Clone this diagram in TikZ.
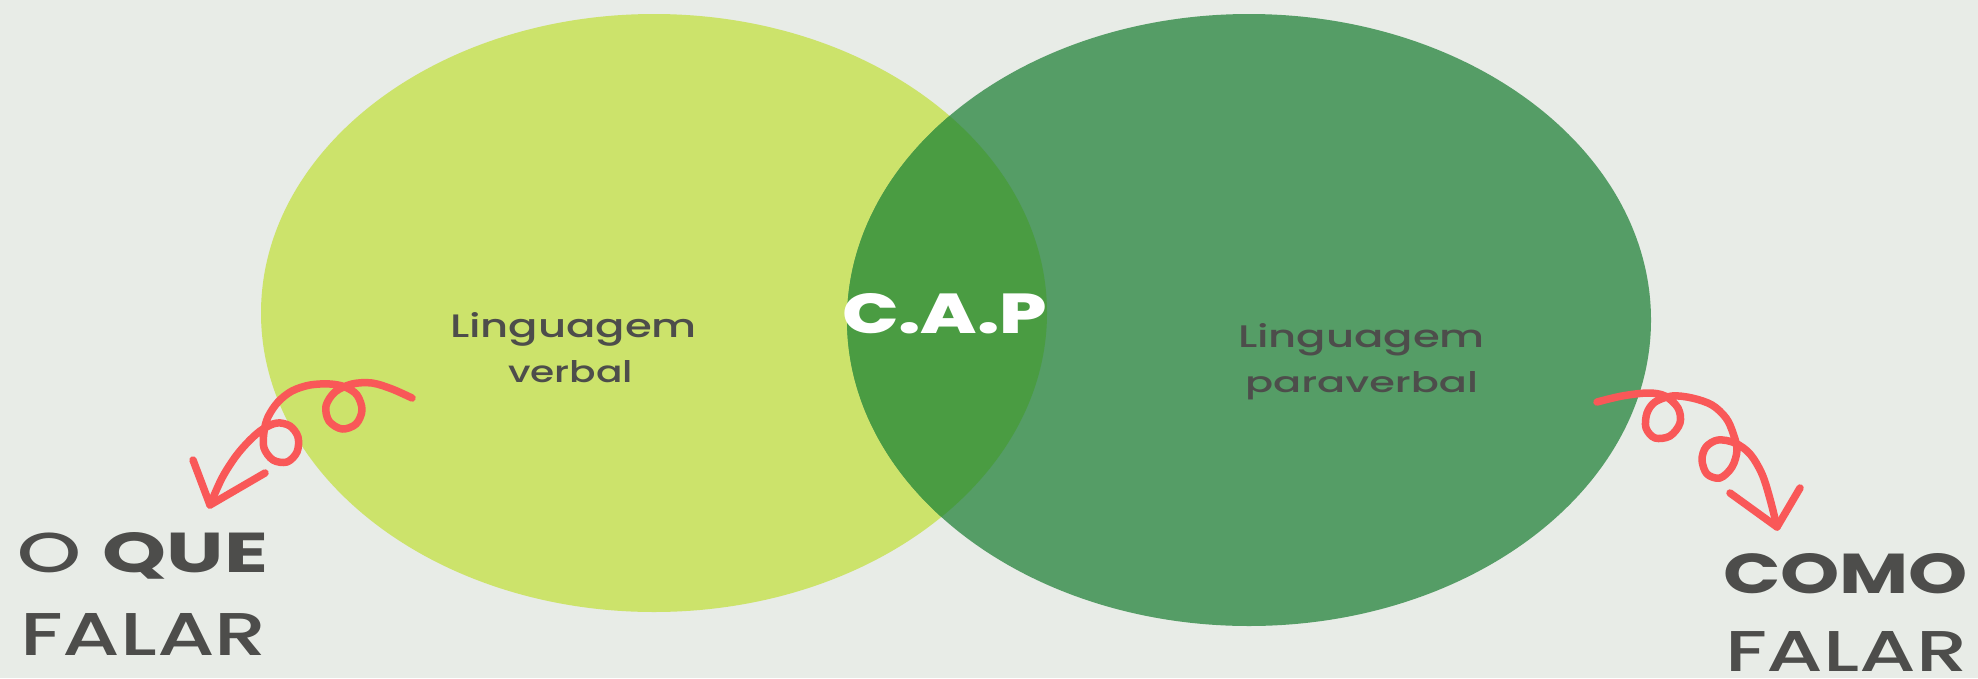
\documentclass[tikz,border=0pt]{standalone}
\usepackage{fontspec}
\setmainfont{Poppins}
\newfontfamily\medfont{Poppins Medium}
\newfontfamily\heavyfont{Poppins ExtraBold}
\usepackage{graphicx}
\definecolor{bgc}{HTML}{E8ECE7}
\definecolor{lime}{HTML}{CCE36B}
\definecolor{leaf}{HTML}{559D66}
\definecolor{mix}{HTML}{4A9C42}
\definecolor{ink}{HTML}{4D4D4B}
\definecolor{coral}{HTML}{F95858}
\newcommand{\fitbox}[3]{\resizebox{#1pt}{#2pt}{#3}}
\tikzset{
  lbl/.style={anchor=base west, inner sep=0pt, outer sep=0pt, text=ink},
  caplbl/.style={anchor=base west, inner sep=0pt, outer sep=0pt, text=white},
  squiggle/.style={draw=coral, line width=7.5pt, line cap=round, line join=round}
}
\begin{document}
\begin{tikzpicture}[x=1pt, y=-1pt]
\useasboundingbox (0,0) rectangle (1978,678);
\fill[bgc] (0,0) rectangle (1978,678);

% circles
\fill[lime] (654,313) ellipse [x radius=393pt, y radius=299pt];
\fill[leaf] (1249,320) ellipse [x radius=402pt, y radius=306pt];
\begin{scope}
  \clip (654,313) ellipse [x radius=393pt, y radius=299pt];
  \fill[mix] (1249,320) ellipse [x radius=402pt, y radius=306pt];
\end{scope}

% labels
\node[lbl] (lv1) at (450,337) {\fitbox{247}{25}{\medfont Linguagem}};
\node[lbl] (lv2) at (508,382) {\fitbox{125}{22}{\medfont verbal}};
\node[lbl] (rp1) at (1238,347) {\fitbox{247}{24}{\medfont Linguagem}};
\node[lbl] (rp2) at (1245,392) {\fitbox{233}{21}{\medfont paraverbal}};
\node[caplbl] (cap) at (842,333) {\fitbox{205}{40}{\heavyfont C.A.P}};

\node[lbl] (oque) at (17,572) {\fitbox{251}{40}{{\medfont O} \textbf{QUE}}};
\node[lbl] (fal1) at (20,655) {\fitbox{247}{42}{\medfont FALAR}};
\node[lbl] (como) at (1723,593) {\fitbox{245}{40}{\bfseries COMO}};
\node[lbl] (fal2) at (1725,671) {\fitbox{243}{40}{\medfont FALAR}};

% left squiggle arrow
\coordinate (la-start) at (412,398);
\coordinate (la-tip) at (210,505);
\coordinate (la-a) at (193,460);
\coordinate (la-b) at (265,473);
\draw[squiggle] plot[smooth, tension=0.55] coordinates {
  (la-start) (392,389) (372,383) (352,384) (335,392) (326,406) (329,421)
  (342,429) (356,424) (362,410) (357,395) (345,387) (330,384) (310,385)
  (292,391) (278,402) (268,417) (264,432) (264,448) (273,460) (287,462)
  (297,452) (298,437) (290,426) (277,423) (263,429) (250,440) (236,456)
  (222,478) (la-tip)};
\draw[squiggle] (la-a) -- (la-tip) -- (la-b);

% right squiggle arrow
\coordinate (ra-start) at (1597,402);
\coordinate (ra-tip) at (1777,527);
\coordinate (ra-a) at (1730,493);
\coordinate (ra-b) at (1800,488);
\draw[squiggle] plot[smooth, tension=0.55] coordinates {
  (ra-start) (1622,396) (1648,393) (1665,396) (1678,408) (1680,423)
  (1670,436) (1655,438) (1646,428) (1647,413) (1655,402) (1672,396)
  (1692,398) (1712,405) (1726,418) (1733,433) (1737,450) (1732,467)
  (1720,478) (1707,474) (1702,460) (1706,447) (1718,440) (1735,443)
  (1750,454) (1762,474) (1770,499) (ra-tip)};
\draw[squiggle] (ra-a) -- (ra-tip) -- (ra-b);
\end{tikzpicture}
\end{document}
